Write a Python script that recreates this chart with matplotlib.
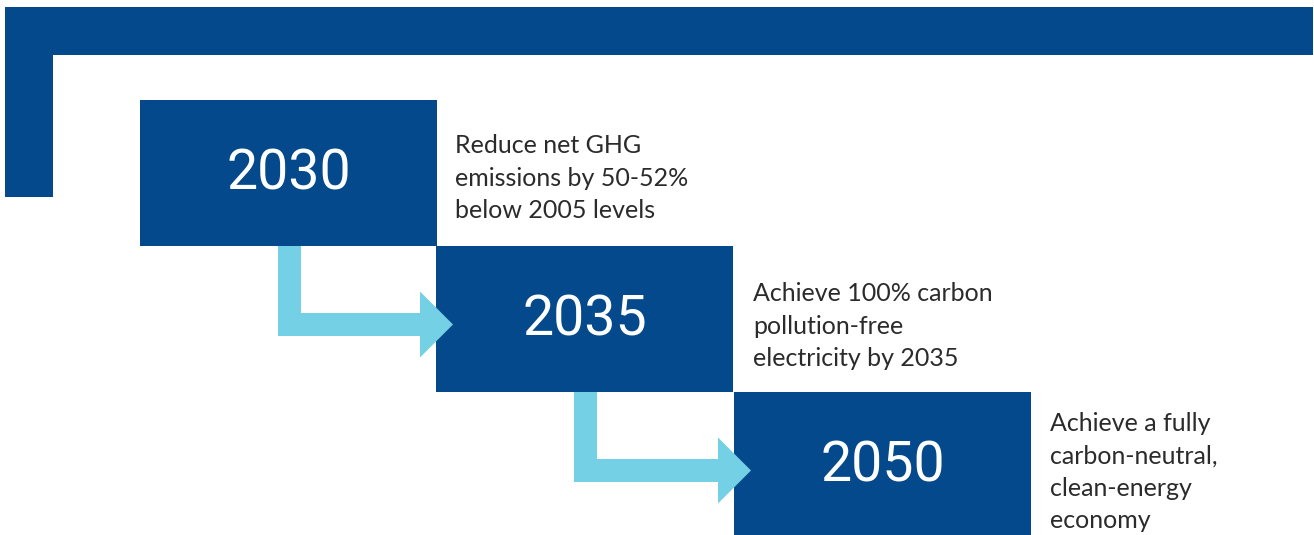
import matplotlib
matplotlib.use("Agg")
import matplotlib.pyplot as plt
from matplotlib.patches import Rectangle, Polygon

# ---- data ----
years = ["2030", "2035", "2050"]
goals = [
    "Reduce net GHG\nemissions by 50-52%\nbelow 2005 levels",
    "Achieve 100% carbon\npollution-free\nelectricity by 2035",
    "Achieve a fully\ncarbon-neutral,\nclean-energy\neconomy",
]

DARK = "#04498B"
LIGHT = "#74D0E4"
TEXT = "#2b2b2b"

W, H = 1314, 535
fig = plt.figure(figsize=(W / 100, H / 100), dpi=100)
ax = fig.add_axes([0, 0, 1, 1])
ax.set_xlim(0, W)
ax.set_ylim(H, 0)
ax.axis("off")

# top frame (inverted L)
ax.add_patch(Rectangle((5, 7), W - 6, 48, color=DARK, lw=0))
ax.add_patch(Rectangle((5, 7), 48, 190, color=DARK, lw=0))

box_x = [140, 436, 734]
box_y = [100, 246, 392]
box_w, box_h = 297, 146
text_x = [455, 753, 1050]
text_top = [134, 282, 412]

for i, (yr, goal) in enumerate(zip(years, goals)):
    x0, y0 = box_x[i], box_y[i]
    ax.add_patch(Rectangle((x0, y0), box_w, box_h, color=DARK, lw=0, zorder=2))
    ax.text(x0 + box_w / 2, y0 + box_h / 2 + 1, yr, color="white",
            fontsize=40, family="Roboto",
            ha="center", va="center", zorder=4)
    ax.text(text_x[i], text_top[i], goal, color=TEXT, fontsize=18,
            family="Lato", ha="left", va="top", linespacing=1.5, zorder=4)

# elbow arrows between boxes
for i in range(2):
    sx = box_x[i] + 138          # stem left
    top = box_y[i] + box_h       # bottom of upper box
    sw = 23                      # stem width
    hy0 = top + 67               # horizontal stem top
    tip_x = box_x[i + 1] + 17
    head_x = tip_x - 33
    cy = hy0 + sw / 2
    pts = [
        (sx, top), (sx + sw, top), (sx + sw, hy0), (head_x, hy0),
        (head_x, cy - 33), (tip_x, cy), (head_x, cy + 33),
        (head_x, hy0 + sw), (sx, hy0 + sw),
    ]
    ax.add_patch(Polygon(pts, closed=True, color=LIGHT, lw=0, zorder=3))

fig.savefig("out.png", dpi=100, facecolor="white")
